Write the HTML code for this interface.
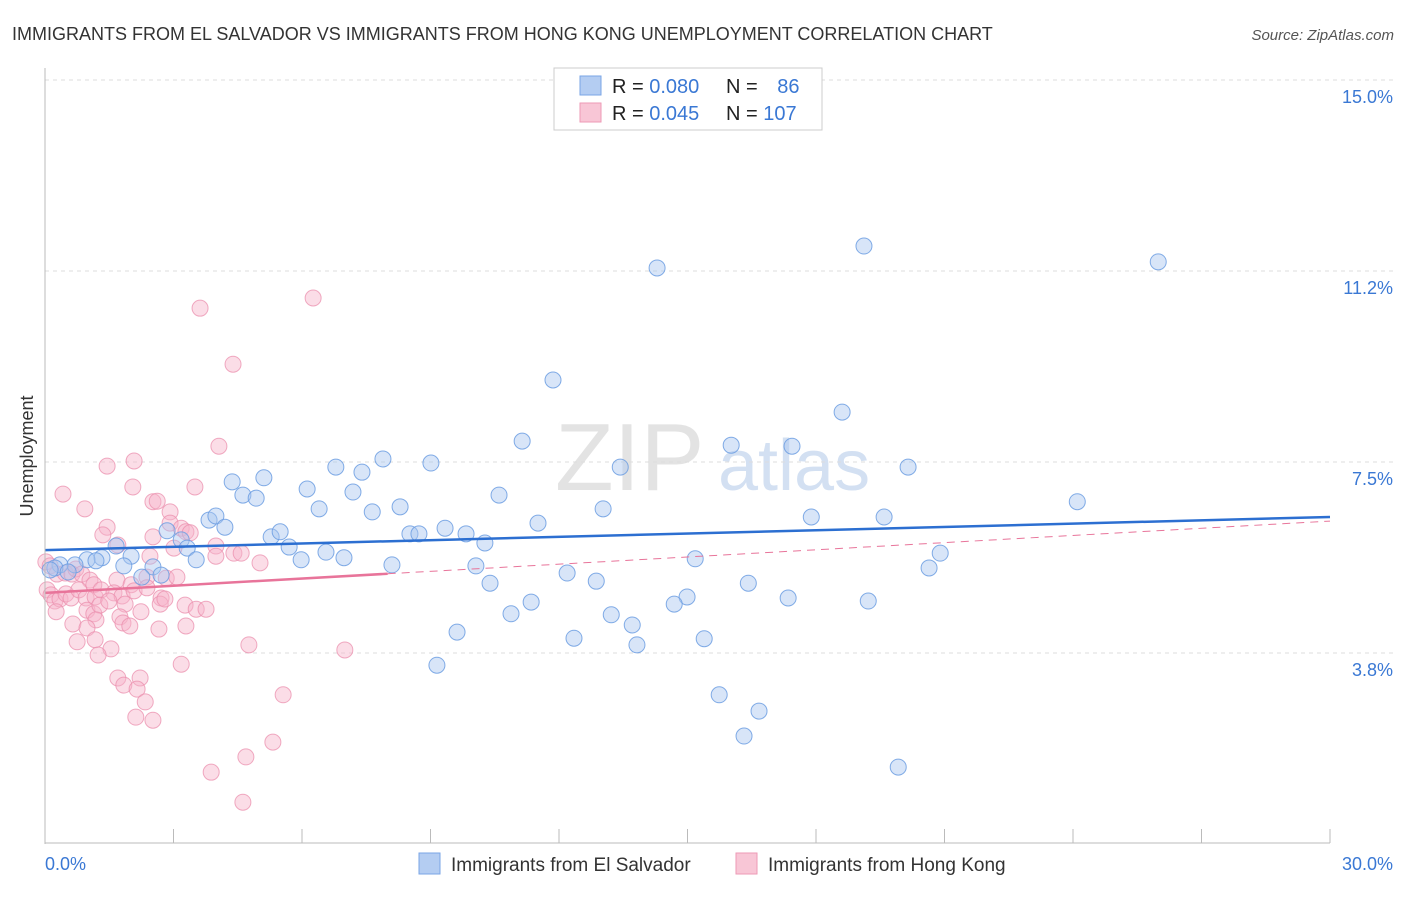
<!DOCTYPE html>
<html><head><meta charset="utf-8"><style>
body{margin:0;background:#fff;font-family:"Liberation Sans",sans-serif;}
svg text{font-family:"Liberation Sans",sans-serif;}
</style></head><body>
<svg id="chart" width="1406" height="892" xmlns="http://www.w3.org/2000/svg">
<text x="12" y="40" font-size="18" fill="#333">IMMIGRANTS FROM EL SALVADOR VS IMMIGRANTS FROM HONG KONG UNEMPLOYMENT CORRELATION CHART</text>
<text x="1394" y="40" font-size="15" fill="#555" text-anchor="end" font-style="italic">Source: ZipAtlas.com</text>
<text x="555" y="490" font-size="96" fill="#ddd" font-family="Liberation Serif" opacity="0.8">ZIP</text>
<text x="718" y="490" font-size="72" fill="#c9d9f0" opacity="0.8">atlas</text>
<text transform="translate(33,456) rotate(-90)" font-size="18" fill="#333" text-anchor="middle">Unemployment</text>
<g id="grid"></g>
<g id="marks"></g>
<g id="axes"></g>
<g>
<rect x="554" y="68" width="268" height="62" fill="#fff" stroke="#ccc"/>
<rect x="580" y="76" width="21" height="19" fill="#b4cdf2" stroke="#7aa5e6"/>
<rect x="580" y="103" width="21" height="19" fill="#f8c6d6" stroke="#ee9ab6"/>
<text x="612" y="93" font-size="20" fill="#222">R = <tspan fill="#3a78d4">0.080</tspan></text>
<text x="726" y="93" font-size="20" fill="#222">N = <tspan fill="#3a78d4" dx="14">86</tspan></text>
<text x="612" y="120" font-size="20" fill="#222">R = <tspan fill="#3a78d4">0.045</tspan></text>
<text x="726" y="120" font-size="20" fill="#222">N = <tspan fill="#3a78d4">107</tspan></text>
</g>
<g>
<rect x="419" y="853" width="21" height="21" fill="#b4cdf2" stroke="#7aa5e6"/>
<text x="451" y="871" font-size="19" fill="#333">Immigrants from El Salvador</text>
<rect x="736" y="853" width="21" height="21" fill="#f8c6d6" stroke="#ee9ab6"/>
<text x="768" y="871" font-size="19" fill="#333">Immigrants from Hong Kong</text>
</g>
</svg>
<script>
const blueX=[14.29,19.12,25.99,11.86,18.61,11.14,16.02,17.44,13.43,20.15,4.37,5.11,6.79,7.40,7.89,9.01,10.60,4.62,4.93,6.12,7.19,6.40,7.64,8.29,24.10,13.03,11.51,17.89,19.59,3.83,3.99,4.20,2.85,5.28,5.49,8.52,8.73,9.34,9.83,10.27,3.18,3.32,5.70,6.56,6.98,5.98,3.53,2.01,1.33,0.98,0.70,0.35,0.23,0.12,0.54,1.19,8.10,10.06,15.18,20.90,20.64,1.84,2.52,2.71,2.26,1.66,12.19,12.87,10.39,16.42,14.99,14.69,11.35,17.35,19.22,10.88,13.22,13.71,9.62,12.35,13.82,15.39,9.15,15.74,16.67,16.32,19.92];
const blueY=[11.31,11.74,11.43,9.11,8.48,7.91,7.83,7.81,7.40,7.40,7.11,7.19,7.40,7.30,7.56,7.48,6.85,6.85,6.79,6.97,6.91,6.58,6.52,6.62,6.72,6.58,6.30,6.42,6.42,6.36,6.44,6.22,6.15,6.03,6.13,6.09,6.09,6.20,6.09,5.91,5.97,5.81,5.83,5.73,5.62,5.58,5.58,5.65,5.62,5.58,5.48,5.48,5.42,5.38,5.34,5.56,5.48,5.46,5.60,5.71,5.42,5.46,5.44,5.28,5.24,5.85,5.32,5.16,5.12,5.12,4.85,4.71,4.75,4.83,4.77,4.52,4.50,4.30,4.16,4.04,3.91,4.03,3.51,2.93,2.61,2.12,1.51];
const pinkX=[6.26,3.62,4.39,4.06,2.08,1.45,0.42,2.05,3.50,0.93,2.52,2.62,2.92,1.45,2.92,3.18,3.29,1.35,1.70,2.52,3.01,3.39,3.99,4.41,4.58,5.02,2.45,3.99,0.02,0.12,0.28,0.47,0.63,0.72,0.86,1.05,1.14,1.68,2.01,2.38,2.83,3.08,0.05,0.14,0.23,0.35,0.49,0.61,0.79,0.96,1.17,1.31,1.61,1.80,2.08,2.38,2.71,2.69,2.80,3.27,3.53,3.76,0.26,0.98,1.14,1.28,1.49,1.87,2.24,1.75,1.19,1.82,1.98,2.66,3.29,0.65,0.98,1.17,0.75,1.54,1.24,4.76,7.00,3.18,2.22,1.70,1.84,2.15,2.34,5.56,2.12,2.52,5.32,4.69,3.88,4.62];
const pinkY=[10.72,10.52,9.42,7.81,7.52,7.42,6.87,7.01,7.01,6.58,6.72,6.73,6.52,6.22,6.30,6.20,6.13,6.07,5.87,6.03,5.81,6.11,5.85,5.71,5.71,5.52,5.65,5.65,5.54,5.46,5.30,5.32,5.30,5.40,5.30,5.18,5.09,5.18,5.09,5.24,5.22,5.24,4.99,4.89,4.77,4.81,4.91,4.83,4.99,4.83,4.85,4.99,4.93,4.87,4.97,5.03,4.83,4.71,4.81,4.69,4.61,4.61,4.56,4.59,4.52,4.69,4.77,4.71,4.56,4.46,4.40,4.34,4.28,4.22,4.28,4.32,4.24,4.01,3.97,3.83,3.71,3.91,3.81,3.53,3.26,3.26,3.12,3.04,2.79,2.93,2.49,2.43,2.00,1.71,1.41,0.82];
const blueTrend=[5.77,6.42];
const pinkTrend=[4.93,6.34];
const pinkSolidEnd=8.0;
const yTicks=[15.0,11.25,7.5,3.75];
const yTickLabels=["15.0%","11.2%","7.5%","3.8%"];
const xTicks=[0,3,6,9,12,15,18,21,24,27,30];

const X0=45,X1=1330,Y0=844,YTOP=80;
const sx=v=>X0+(v/30)*(X1-X0);
const sy=v=>Y0-(v/15)*(Y0-YTOP);
const NS="http://www.w3.org/2000/svg";
function mk(tag,attrs,parent){const e=document.createElementNS(NS,tag);for(const k in attrs)e.setAttribute(k,attrs[k]);parent.appendChild(e);return e;}
const grid=document.getElementById('grid'),marks=document.getElementById('marks'),axes=document.getElementById('axes');
yTicks.forEach((t,i)=>{
  const l=mk('line',{x1:X0,x2:1394,y1:sy(t),y2:sy(t),stroke:'#ddd','stroke-dasharray':'4,4'},grid);
  
  
  const tx=mk('text',{x:1393,y:sy(t)+23,'font-size':18,fill:'#3a78d4','text-anchor':'end'},axes);
  tx.textContent=yTickLabels[i];
  
  
});
const ax=mk('line',{x1:X0,x2:X0,y1:68,y2:844,stroke:'#bbb'},axes);


const bx=mk('line',{x1:X0,x2:X1,y1:843,y2:843,stroke:'#bbb'},axes);


xTicks.forEach(t=>{
  const l=mk('line',{x1:sx(t),x2:sx(t),y1:829,y2:843,stroke:'#bbb'},axes);
  
  
});
const xl0=mk('text',{x:45,y:870,'font-size':18,fill:'#3a78d4'},axes);xl0.textContent='0.0%';


const xl1=mk('text',{x:1393,y:870,'font-size':18,fill:'#3a78d4','text-anchor':'end'},axes);xl1.textContent='30.0%';



pinkX.forEach((x,i)=>{
  const c=mk('circle',{cx:sx(x),cy:sy(pinkY[i]),r:8,fill:'#f6b3c9','fill-opacity':0.45,stroke:'#eb8fae','stroke-opacity':0.75,'stroke-width':1},marks);
  
  
});
blueX.forEach((x,i)=>{
  const c=mk('circle',{cx:sx(x),cy:sy(blueY[i]),r:8,fill:'#a9c6f0','fill-opacity':0.45,stroke:'#6c9de2','stroke-opacity':0.85,'stroke-width':1},marks);
  
  
});
const pAt=x=>pinkTrend[0]+(pinkTrend[1]-pinkTrend[0])*x/30;
const pd=mk('line',{x1:sx(pinkSolidEnd),y1:sy(pAt(pinkSolidEnd)),x2:sx(30),y2:sy(pinkTrend[1]),stroke:'#e8749a','stroke-width':1,'stroke-dasharray':'8,6'},marks);


const ps=mk('line',{x1:sx(0),y1:sy(pinkTrend[0]),x2:sx(pinkSolidEnd),y2:sy(pAt(pinkSolidEnd)),stroke:'#e8749a','stroke-width':2.5},marks);


const bl=mk('line',{x1:sx(0),y1:sy(blueTrend[0]),x2:sx(30),y2:sy(blueTrend[1]),stroke:'#2c6fd1','stroke-width':2.5},marks);


</script>
</body></html>
